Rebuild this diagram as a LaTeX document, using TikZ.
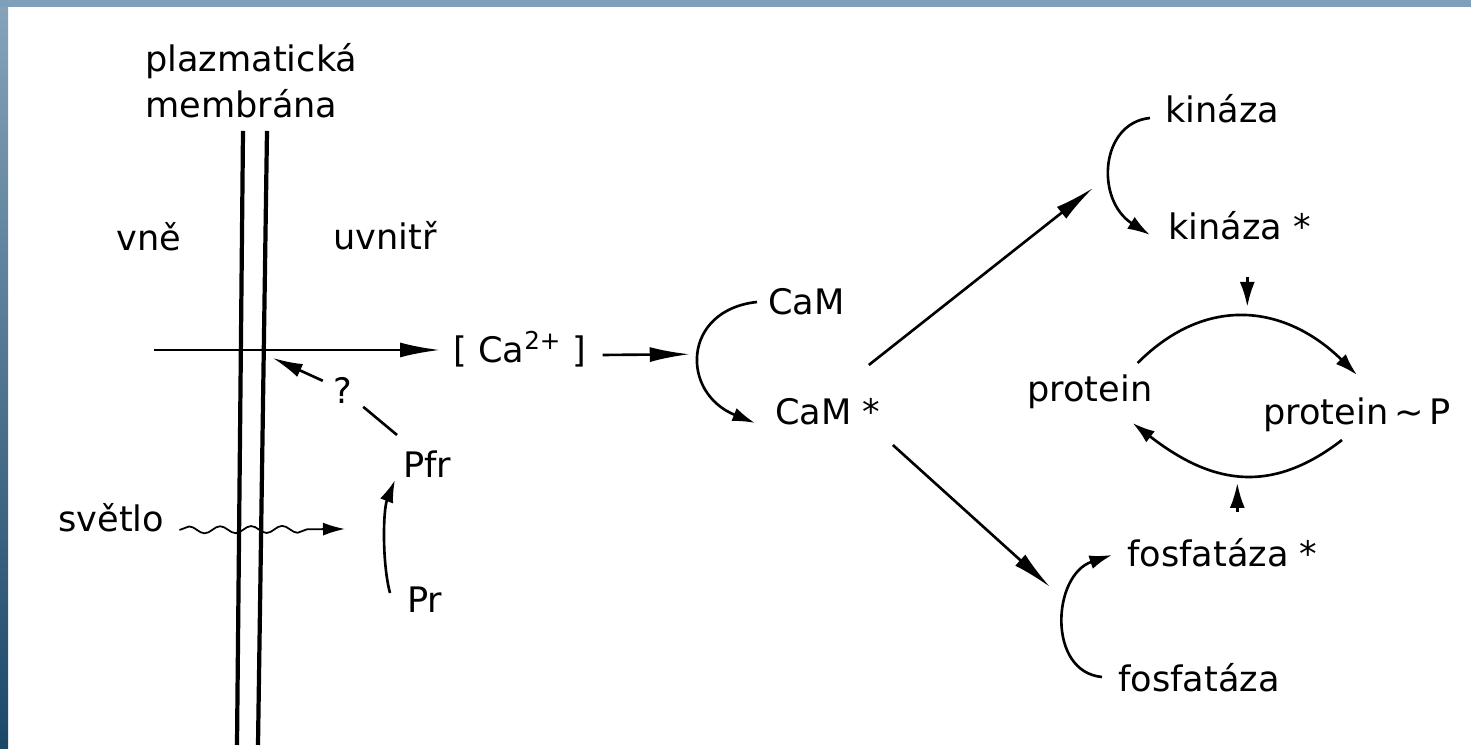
\documentclass[tikz,border=0pt]{standalone}
\usepackage{fontspec}
\setmainfont{DejaVu Sans}
\usetikzlibrary{arrows.meta,decorations.pathmorphing,calc}

\definecolor{skyband}{HTML}{7FA0BA}
\definecolor{edgetop}{HTML}{86A3BA}
\definecolor{edgemid}{HTML}{3E5C62}
\definecolor{edgebot}{HTML}{1C4868}

\begin{document}
\begin{tikzpicture}[x=0.02cm,y=0.02cm,
  lbl/.style={inner sep=0pt, anchor=base west, font=\fontsize{20}{24}\selectfont},
  membrane/.style={line width=2.4pt},
  wire/.style={line width=1.5pt},
  bigtip/.style={-{Latex[length=0.8cm,width=0.3cm]}},
  midtip/.style={-{Latex[length=0.45cm,width=0.28cm]}},
  smalltip/.style={-{Latex[length=0.5cm,width=0.3cm]}},
  qtip/.style={-{Latex[length=0.6cm,width=0.28cm]}},
  wave/.style={line width=1pt, decorate,
    decoration={snake, amplitude=0.07cm, segment length=0.62cm, post length=0.46cm}}]

% page and frame bands
\fill[white] (0,0) rectangle (1471,749);
\useasboundingbox (0,0) rectangle (1471,749);
\shade[top color=edgetop, middle color=edgemid, bottom color=edgebot] (0,0) rectangle (8,749);
\fill[skyband] (0,742) rectangle (1471,749);

% labels
\node[lbl] (plaz)   at (145,677) {plazmatická};
\node[lbl] (memb)   at (145,631) {membrána};
\node[lbl] (vne)    at (116,498) {vně};
\node[lbl] (uvn)    at (333,499) {uvnitř};
\node[lbl] (ca)     at (453,386) {[ Ca\textsuperscript{2+} ]};
\node[lbl] (cam)    at (768,434) {CaM};
\node[lbl] (cams)   at (775,324) {CaM *};
\node[lbl] (kin)    at (1165,626) {kináza};
\node[lbl] (kins)   at (1168,509) {kináza *};
\node[lbl] (prot)   at (1027,347) {protein};
\node[lbl] (protp)  at (1263,324) {protein\,∼\,P};
\node[lbl] (foss)   at (1127,182) {fosfatáza *};
\node[lbl] (fos)    at (1118,57)  {fosfatáza};
\node[lbl] (pfr)    at (403,271)  {Pfr};
\node[lbl] (pr)     at (407,136)  {Pr};
\node[lbl] (svetlo) at (58,217)   {světlo};
\node[inner xsep=6pt, inner ysep=2pt, font=\fontsize{20}{24}\selectfont] (q) at (343,359) {?};

% plasma membrane (two leaflets)
\coordinate (m1t) at (243,618);
\coordinate (m1b) at (237,4);
\coordinate (m2t) at (267,618);
\coordinate (m2b) at (258,4);
\draw[membrane] (m1t) -- (m1b);
\draw[membrane] (m2t) -- (m2b);

% calcium influx
\coordinate (hstart) at (154,399);
\coordinate (hend) at (440,399);
\coordinate (cross) at (intersection of m2t--m2b and hstart--hend);
\draw[wire, bigtip] (hstart) -- ([shift={(-13,13)}]ca.base west);

% calmodulin activation
\draw[wire, midtip] ([shift={(-11,13)}]cam.base west)
  .. controls +(-75,-8) and +(-75,30) .. ([shift={(-20,2)}]cams.base west)
  coordinate[pos=0.5] (camleft);
\draw[wire, bigtip] ([shift={(16,8)}]ca.base east) -- ($(camleft)+(-10,0)$);

% branches to kinase and phosphatase
\draw[wire, bigtip] ([shift={(-12,60)}]cams.base east) -- ([shift={(-75,52)}]kins.base west);
\draw[wire, bigtip] ([shift={(12,-20)}]cams.base east) -- ([shift={(-77,-20)}]foss.base west);

% kinase activation
\draw[wire, midtip] ([shift={(-15,5)}]kin.base west)
  .. controls +(-50,-5) and +(-55,35) .. ([shift={(-18,5)}]kins.base west);

% phosphatase activation
\draw[wire, midtip] ([shift={(-16,15)}]fos.base west)
  .. controls +(-55,5) and +(-60,-20) .. ([shift={(-15,12)}]foss.base west);

% phosphorylation cycle
\draw[wire, midtip] ([shift={(-15,39)}]prot.base east)
  .. controls +(70,70) and +(-70,69) .. ([shift={(94,50)}]protp.base west)
  coordinate[pos=0.5] (tpeak);
\draw[wire, midtip] ([shift={(79,-15)}]protp.base west)
  .. controls +(-75,-58) and +(75,-58) .. ([shift={(-20,-21)}]prot.base east)
  coordinate[pos=0.5] (bpeak);
\draw[wire, smalltip] ($(tpeak)+(0,40)$) -- ($(tpeak)+(0,10)$);
\draw[wire, smalltip] ($(bpeak)+(0,-37)$) -- ($(bpeak)+(0,-8)$);

% phytochrome conversion
\draw[wire, midtip] ([shift={(-17,20)}]pr.base west)
  .. controls +(-8,30) and +(-12,-30) .. ([shift={(-8,-2)}]pfr.base west);
\draw[wire] ([shift={(-6,43)}]pfr.base west) -- (q);
\draw[wire, qtip] (q) -- ($(cross)+(9,-8)$);

% light
\coordinate (lightend) at (345,220);
\draw[wave, -{Latex[length=0.44cm,width=0.26cm]}] ([shift={(15,2)}]svetlo.base east) -- (lightend);
\end{tikzpicture}
\end{document}
